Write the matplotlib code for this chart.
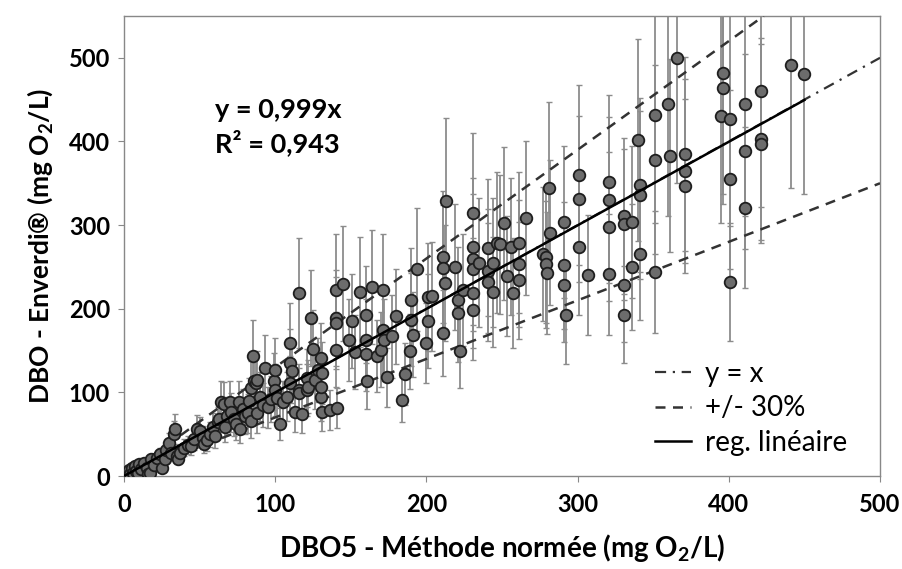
import numpy as np
import matplotlib
matplotlib.use("Agg")
import matplotlib.pyplot as plt

plt.rcParams['font.family'] = ['Lato', 'DejaVu Sans']
plt.rcParams['mathtext.fontset'] = 'custom'
plt.rcParams['mathtext.rm'] = 'Lato'
plt.rcParams['mathtext.bf'] = 'Lato:bold'

# ---- data (DBO5 reference method vs Enverdi, mg O2/L) ----
x_low = [2,3,4,5,6,7,8,9,10,11,13,15,16,17,18,20,22,24,25,27,28,30,31,33,34,35,36,37,40,42,
         44,46,48,50,52,53,55,57,59,60,62,63,64,66,67,68,70,71,73,74,76,77,79,80,82,83,84,84]
y_low = [3,7,2,9,4,12,6,3,14,8,16,10,2,4,20,13,22,26,9,20,31,40,27,50,56,24,20,28,34,37,
         36,44,56,54,46,38,43,50,58,48,64,68,88,86,58,72,88,76,68,62,88,56,80,72,75,90,105,66]
e_low = [1,2,1,3,1,4,2,1,4,3,5,3,1,1,6,4,7,8,3,6,9,12,8,16,18,7,6,8,10,11,
         11,13,17,16,14,11,13,15,17,14,19,20,26,26,17,22,26,23,20,19,26,17,24,22,23,27,32,20]

x_mid = [85,86,87,88,88,90,92,93,95,97, 99,100,100,101,103,105,108,110,110,110,
         111,113,116,116,116,118,121,121,122,124, 125,126,128,130,130,130,131,131,136,140,
         140,140,140,141,145,149,151,153,156,160, 160,160,161,164,167,170,171,171,172,174,
         177,180,184,186,189,190,190,191,194,200, 201,201,204]
y_mid = [143,113,111,75,115,95,85,129,82,92, 113,127,103,93,62,88,95,159,135,111,
         125,76,219,103,99,74,117,103,107,189, 152,115,127,95,107,141,77,123,79,222,
         189,183,151,81,230,163,185,148,220,193, 163,146,114,226,144,151,222,175,163,118,
         167,191,91,122,149,210,187,169,247,159, 214,185,215]
e_mid = [43,34,33,23,35,29,26,39,25,28, 34,38,31,28,19,26,29,48,41,33,
         38,23,66,31,30,22,35,31,32,57, 46,35,38,29,32,42,23,37,24,67,
         57,55,45,24,69,49,56,44,66,58, 49,44,34,68,43,45,67,53,49,35,
         50,57,27,37,45,63,56,51,74,48, 64,56,65]

x_up = [211,211,212,211,213,219,221,221,222,224, 231,231,231,231,231,231,235,241,241,241,
        244,244,247,249,251,253,256,257,261,261, 261,266,277,279,279,280,281,282,291,291,
        291,292]
y_up = [262,249,231,171,329,250,211,195,150,222, 315,274,259,247,219,198,255,273,245,232,
        220,255,279,277,302,239,274,219,279,254, 234,308,265,262,253,243,344,291,304,252,
        228,192]
e_up = [79,75,69,51,99,75,63,59,45,67, 95,82,78,74,66,59,77,82,74,70,
        66,77,84,83,91,72,82,66,84,76, 70,92,80,79,76,73,103,87,91,76,
        68,58]

x_hi = [301,301,301,307,321,321,321,321,331,331, 331,331,336,336,340,341,341,341,351,351,
        351,360,361,366,371,371,371,395,396,396, 401,401,401,411,411,411,421,421,421,441,
        450]
y_hi = [360,331,274,240,351,330,298,241,311,301, 228,193,304,250,402,348,336,266,432,378,
        244,445,383,500,385,365,347,431,482,464, 427,355,232,445,388,321,460,403,397,491,
        481]
e_hi = [108,99,82,72,105,99,89,72,93,90, 68,58,91,75,121,104,101,80,130,113,
        73,134,115,150,116,110,104,129,145,139, 128,107,70,134,116,96,138,121,119,147,
        144]

slope = 0.999
r2 = 0.943
band = 0.30
x_ticks = [0, 100, 200, 300, 400, 500]
y_ticks = [0, 100, 200, 300, 400, 500]
legend_labels = ["y = x", "+/- 30%", "reg. linéaire"]

x = np.array(x_low + x_mid + x_up + x_hi, dtype=float)
y = np.array(y_low + y_mid + y_up + y_hi, dtype=float)
e = np.array(e_low + e_mid + e_up + e_hi, dtype=float)

fig = plt.figure(figsize=(9.02, 5.69), dpi=100)
ax = fig.add_axes([124/902, 1 - 476/569, (880-124)/902, (476-16)/569])

ax.errorbar(x, y, yerr=e, fmt='none', ecolor='#8c8c8c', elinewidth=1.3,
            capsize=2.5, capthick=1.0, zorder=2)
ax.scatter(x, y, s=70, facecolor='#6c6c6c', edgecolor='#1e1e1e', linewidth=1.3, zorder=4)

xx = np.array([0, 500.0])
l1, = ax.plot(xx, xx, color='#333333', lw=1.6, dashes=(5, 3, 1, 3), zorder=3)
xp = np.array([0, 550/(1+band)])
l2, = ax.plot(xp, (1+band)*xp, color='#333333', lw=1.8, dashes=(4, 3), zorder=3)
ax.plot(xx, (1-band)*xx, color='#333333', lw=1.8, dashes=(4, 3), zorder=3)
xr = np.array([0, 450.0])
l3, = ax.plot(xr, slope*xr, color='black', lw=1.8, zorder=5)

ax.set_xlim(0, 500)
ax.set_ylim(0, 550)
ax.set_xticks(x_ticks)
ax.set_yticks(y_ticks)
for lab in ax.get_xticklabels() + ax.get_yticklabels():
    lab.set_fontweight('bold')
ax.tick_params(labelsize=17, length=4, color='#888888')
ax.tick_params(axis='x', pad=8)
ax.tick_params(axis='y', pad=6)
for sp in ax.spines.values():
    sp.set_color('#888888')
    sp.set_linewidth(1.0)

ax.set_xlabel(r'DBO5 - Méthode normée (mg O$_\mathbf{2}$/L)', fontsize=20, fontweight='bold', labelpad=12)
ax.set_ylabel(r'DBO - Enverdi® (mg O$_\mathbf{2}$/L)', fontsize=19, fontweight='bold', labelpad=10)

ax.text(60, 438, 'y = 0,999x', fontsize=19.5, fontweight='bold', va='center')
ax.text(60, 398, 'R² = 0,943', fontsize=19.5, fontweight='bold', va='center')

leg = ax.legend([l1, l2, l3], legend_labels, loc='lower right', frameon=False,
                fontsize=20, handlelength=1.3, labelspacing=0.3,
                bbox_to_anchor=(0.99, -0.01), handletextpad=0.5)

fig.savefig('out.png', dpi=100)
